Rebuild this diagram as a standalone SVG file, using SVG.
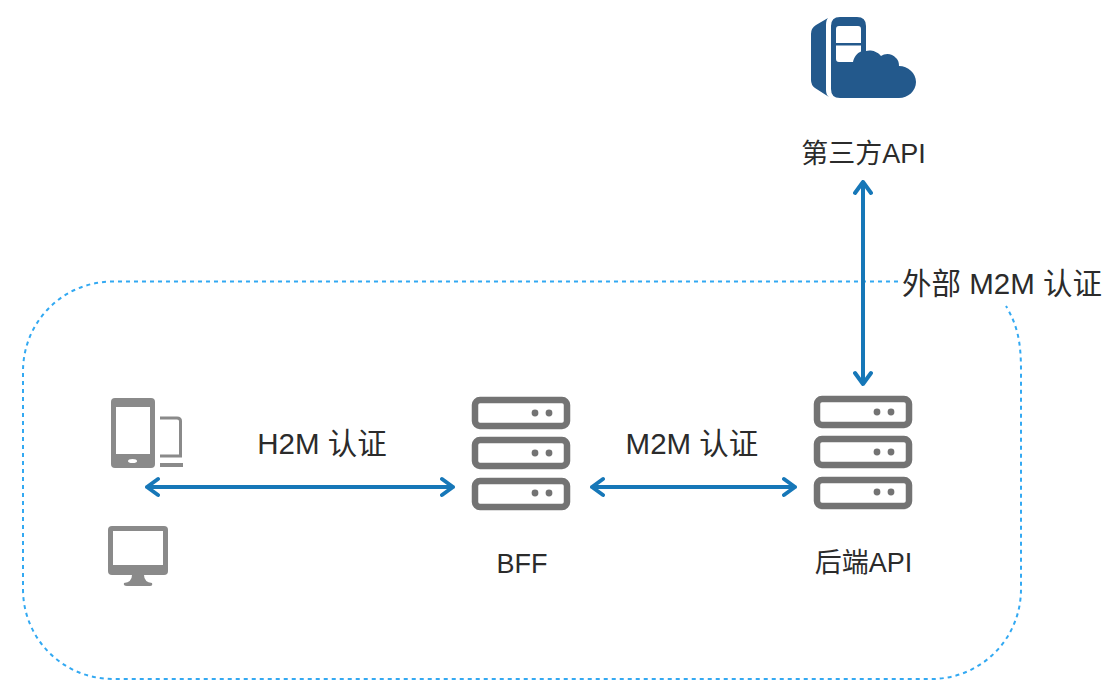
<svg xmlns="http://www.w3.org/2000/svg" width="1112" height="698" viewBox="0 0 1112 698">
<style>
.t{font-family:"Liberation Sans","Noto Sans CJK SC",sans-serif;fill:#2b2b2b}
.a{fill:none;stroke:#1677b8;stroke-width:4;stroke-linecap:round;stroke-linejoin:round}
.g{fill:#8a8a8a}
.s{fill:none;stroke:#737373;stroke-width:6.500}
.d{fill:#737373}
</style>
<defs>
<g id="srv">
<rect class="s" x="3" y="3" width="92" height="26" rx="5"/><circle class="d" cx="63" cy="16" r="3.400"/><circle class="d" cx="77" cy="16" r="3.400"/>
<rect class="s" x="3" y="43" width="92" height="26" rx="5"/><circle class="d" cx="63" cy="56" r="3.400"/><circle class="d" cx="77" cy="56" r="3.400"/>
<rect class="s" x="3" y="84" width="92" height="26" rx="5"/><circle class="d" cx="63" cy="96" r="3.400"/><circle class="d" cx="77" cy="96" r="3.400"/>
</g>
</defs>
<rect width="1112" height="698" fill="#fff"/>
<g id="connectors">
<path id="boundary" d="M898 281.500H113C63 281.500 23 321.500 23 371.500V589C23 639 63 679 113 679H931C981 679 1021 639 1021 589V371C1021 340 1017 325 1006 306" fill="none" stroke="#33a9f2" stroke-width="2" stroke-dasharray="4 4"/>
<path class="a" d="M147 487H453M158 479L147 487L158 495M442 479L453 487L442 495"/>
<path class="a" d="M592 487H795M603 479L592 487L603 495M784 479L795 487L784 495"/>
<path class="a" d="M863 182V384M855 193L863 182L871 193M855 373L863 384L871 373"/>
</g>
<g id="clients">
<rect class="g" x="111" y="398" width="44" height="70" rx="4"/>
<rect x="116" y="407" width="34" height="47" fill="#fff"/>
<ellipse cx="132.500" cy="461" rx="4.500" ry="2" fill="#fff"/>
<path d="M160 418H177Q180.500 418 180.500 421V456H160" fill="none" stroke="#8a8a8a" stroke-width="3"/>
<rect class="g" x="160" y="463" width="23" height="4"/>
<rect class="g" x="108" y="526" width="60" height="49" rx="4"/>
<rect x="113" y="531" width="50" height="34" fill="#fff"/>
<path class="g" d="M132 575H144Q144 582 152 583Q153 586 150 586H127Q123 586 124 583Q132 582 132 575Z"/>
</g>
<g id="bff">
<use href="#srv" x="472" y="397"/>
<text class="t" x="522" y="573" font-size="27" text-anchor="middle">BFF</text>
</g>
<g id="backend">
<use href="#srv" x="814" y="396"/>
<text class="t" x="863.500" y="572" font-size="27" text-anchor="middle">后端API</text>
</g>
<g id="third-party">
<path d="M828 18L816 25Q811 28 811 34V80Q811 85 815 88L829 97Q826 95 826 90V25Q826 20 828 18Z" fill="#23598c"/>
<path d="M840 17H857Q866 17 866 26V51C869 50 876 50 881 56C885 53 892 53 896 58C899 61 899 64 899 66C908 66 916 73 916 82C916 91 908 98 899 98H840Q831 98 831 89V26Q831 17 840 17Z" fill="#23598c"/>
<path d="M839 26H858Q861 26 861 29V43H836V29Q836 26 839 26ZM836 45.500H861V51.500C857 53 854 57 853 62H839Q836 62 836 59Z" fill="#fff"/>
<text class="t" x="863.500" y="163" font-size="27" text-anchor="middle">第三方API</text>
</g>
<g id="labels">
<text class="t" x="322" y="453.500" font-size="29.500" text-anchor="middle" xml:space="preserve">H2M 认证</text>
<text class="t" x="692" y="453.500" font-size="29.500" text-anchor="middle" xml:space="preserve">M2M 认证</text>
<text class="t" x="1002" y="293.500" font-size="29.500" text-anchor="middle" xml:space="preserve">外部 M2M 认证</text>
</g>
</svg>
